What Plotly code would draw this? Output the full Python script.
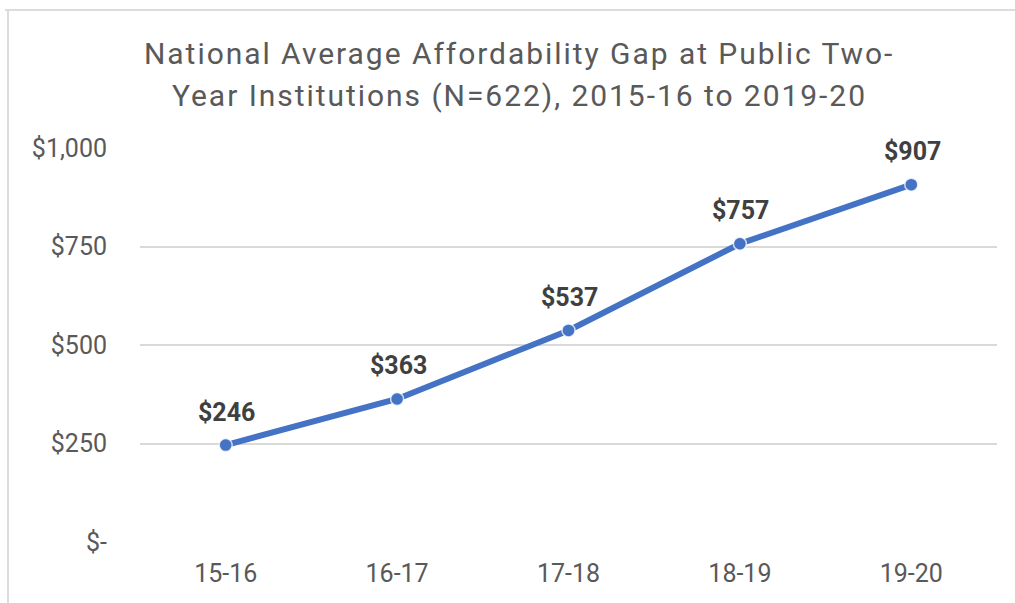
import plotly.graph_objects as go

# Academic years and average affordability gap (USD)
years = ["15-16", "16-17", "17-18", "18-19", "19-20"]
gap = [246, 363, 537, 757, 907]

tick_values = [0, 250, 500, 750, 1000]
tick_labels = ["$-", "$250", "$500", "$750", "$1,000"]

title_lines = [
    "National Average Affordability Gap at Public Two-",
    "Year Institutions (N=622), 2015-16 to 2019-20",
]

W, H = 1015, 603
M_L, M_R, M_T, M_B = 140, 18, 148, 61
plot_w = W - M_L - M_R
plot_h = H - M_T - M_B

LINE_BLUE = "#4472C4"
TEXT_GREY = "#595959"
GRID = "#d9d9d9"


def px_to_paper_x(px):
    return (px - M_L) / plot_w


def px_to_paper_y(py):
    return (H - M_B - py) / plot_h


fig = go.Figure()
fig.add_trace(
    go.Scatter(
        x=years,
        y=gap,
        mode="lines+markers",
        line=dict(color=LINE_BLUE, width=6),
        marker=dict(size=13, color=LINE_BLUE,
                    line=dict(color="rgba(255,255,255,0.75)", width=1.5)),
        hoverinfo="skip",
        showlegend=False,
        cliponaxis=False,
    )
)

for yr, v in zip(years, gap):
    fig.add_annotation(
        x=yr, y=v, text=f"<b>${v:,}</b>", showarrow=False,
        yshift=33, xshift=1,
        font=dict(family="Roboto", size=25, color="#404040"),
    )

# Two-line chart title, each line placed on its own
for line, cy in zip(title_lines, [53, 95]):
    fig.add_annotation(
        xref="paper", yref="paper",
        x=px_to_paper_x(519), y=px_to_paper_y(cy),
        xanchor="center", yanchor="middle", showarrow=False,
        text=f'<span style="letter-spacing:1.95px">{line}</span>',
        font=dict(family="Roboto", size=30, color=TEXT_GREY),
    )

# Light frame along the top and left edges
fig.add_shape(type="line", xref="paper", yref="paper",
              x0=px_to_paper_x(5), x1=px_to_paper_x(W + 5),
              y0=px_to_paper_y(10), y1=px_to_paper_y(10),
              line=dict(color="#dcdcdc", width=2))
fig.add_shape(type="line", xref="paper", yref="paper",
              x0=px_to_paper_x(8), x1=px_to_paper_x(8),
              y0=px_to_paper_y(10), y1=px_to_paper_y(H + 5),
              line=dict(color="#dcdcdc", width=2))

fig.update_layout(
    width=W, height=H,
    margin=dict(l=M_L, r=M_R, t=M_T, b=M_B),
    paper_bgcolor="white", plot_bgcolor="white",
    font=dict(family="Roboto", color=TEXT_GREY),
    xaxis=dict(
        type="category", range=[-0.5, 4.5],
        showgrid=False, zeroline=False, showline=False,
        tickfont=dict(size=25, color=TEXT_GREY),
        ticks="", ticklabelstandoff=14,
    ),
    yaxis=dict(
        range=[0, 1000], tickvals=tick_values, ticktext=tick_labels,
        showgrid=True, gridcolor=GRID, gridwidth=1.5,
        zeroline=False, showline=False, ticks="",
        tickfont=dict(size=25, color=TEXT_GREY),
        ticklabelstandoff=32,
    ),
)

fig.write_html("out.html")
